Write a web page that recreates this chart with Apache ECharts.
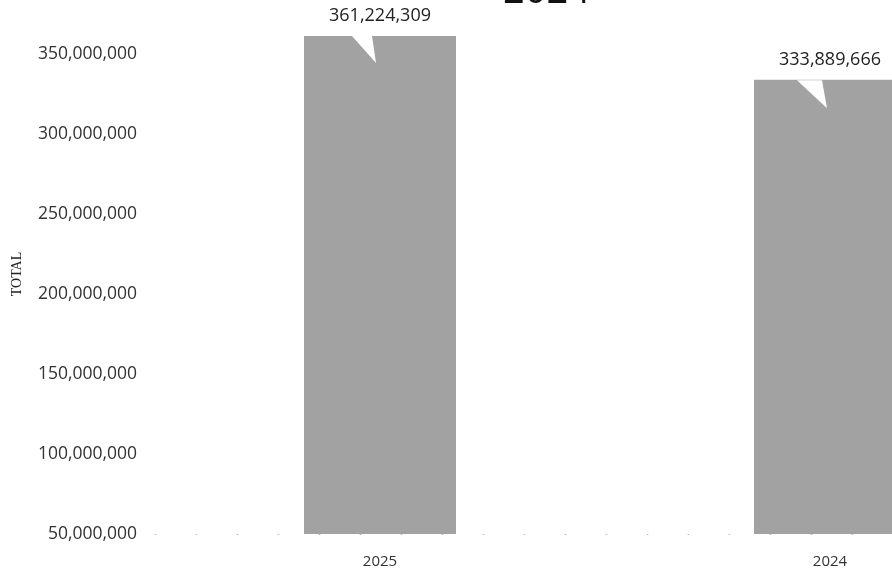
<!DOCTYPE html>
<html>
<head>
<meta charset="utf-8">
<script src="https://cdn.jsdelivr.net/npm/echarts@6/dist/echarts.min.js"></script>
<style>
html,body{margin:0;padding:0;background:#fff;}
#chart{width:892px;height:571px;}
</style>
</head>
<body>
<div id="chart"></div>
<script>
const categories = ['2025', '2024'];
const totals = [361224309, 333889666];
const yTicks = [50000000, 100000000, 150000000, 200000000, 250000000, 300000000, 350000000];
const yMax = 375000000;
const titleText = '2024';
const axisName = 'TOTAL';

const fmt = v => Math.round(v).toLocaleString('en-US');

const chart = echarts.init(document.getElementById('chart'));
chart.setOption({
  animation: false,
  backgroundColor: '#ffffff',
  title: {
    text: titleText,
    left: 498,
    top: -32,
    textStyle: { fontFamily: 'Open Sans', fontSize: 38, fontWeight: 'normal', color: '#111' }
  },
  grid: { left: 155, top: 14, width: 900, height: 520, containLabel: false, outerBoundsMode: 'none' },
  xAxis: {
    type: 'category',
    data: categories,
    axisLine: { show: true, lineStyle: { color: '#bbb', width: 1, type: [1, 40] } },
    axisTick: { show: false },
    axisLabel: { margin: 20, fontFamily: 'Open Sans', fontSize: 15, color: '#333' },
    splitLine: { show: false }
  },
  yAxis: {
    type: 'value',
    min: yTicks[0],
    max: yMax,
    interval: yTicks[1] - yTicks[0],
    name: axisName,
    nameLocation: 'middle',
    nameGap: 131,
    nameRotate: 90,
    nameTextStyle: { fontFamily: 'Liberation Serif', fontSize: 14, color: '#222' },
    axisLine: { show: false },
    axisTick: { show: false },
    splitLine: { show: false },
    axisLabel: { margin: 18, fontFamily: 'Open Sans', fontSize: 17.5, color: '#333', formatter: fmt, showMaxLabel: false }
  },
  series: [{
    type: 'bar',
    data: totals,
    barWidth: 152,
    itemStyle: { color: '#a2a2a2' },
    label: {
      show: true,
      position: 'top',
      distance: 11,
      fontFamily: 'Open Sans',
      fontSize: 18,
      color: '#222',
      formatter: p => fmt(p.value)
    },
    markPoint: {
      symbol: 'path://M0,0 L20,0 L24,27 Z',
      label: { show: false },
      itemStyle: { color: '#ffffff' },
      silent: true,
      data: [
        { coord: [categories[0], totals[0]], symbolSize: [24, 27], symbolOffset: [-16, 13.5] },
        { coord: [categories[1], totals[1]], symbolSize: [30, 28], symbolOffset: [-18, 14.5] }
      ]
    }
  }]
});
</script>
</body>
</html>
